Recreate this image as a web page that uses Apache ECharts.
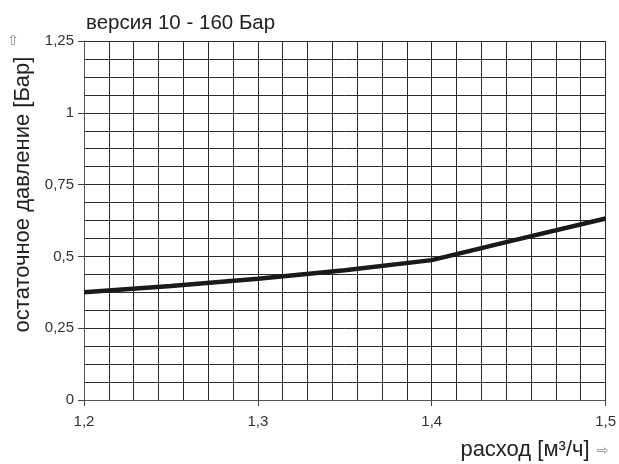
<!DOCTYPE html>
<html>
<head>
<meta charset="utf-8">
<script src="https://cdn.jsdelivr.net/npm/echarts@6/dist/echarts.min.js"></script>
<style>
html,body{margin:0;padding:0;background:#fff;}
#chart{width:619px;height:464px;}
</style>
</head>
<body>
<div id="chart"></div>
<script>
var titleText = 'версия 10 - 160 Бар';
var xName = 'расход [м³/ч]';
var yName = 'остаточное давление [Бар]';
var flow = [1.2, 1.25, 1.3, 1.35, 1.4, 1.45, 1.5];
var pressure = [0.375, 0.397, 0.422, 0.452, 0.487, 0.560, 0.632];

var FONT = '"Liberation Sans", Arial, "DejaVu Sans", sans-serif';
function fmt(v){ return String(Math.round(v*1000)/1000).replace('.', ','); }

var chart = echarts.init(document.getElementById('chart'));
chart.setOption({
  animation: false,
  backgroundColor: '#fff',
  title: {
    text: titleText,
    left: 81, top: 8,
    textStyle: {fontFamily: FONT, fontSize: 20.5, fontWeight: 'normal', color: '#222'}
  },
  grid: {left: 84, right: 12, top: 41, bottom: 64, containLabel: false},
  xAxis: {
    type: 'value', min: 1.2, max: 1.5, interval: 0.1,
    name: xName, nameLocation: 'end', nameGap: -16,
    nameTextStyle: {fontFamily: FONT, fontSize: 22, color: '#222', align: 'right', verticalAlign: 'top', padding: [39, 0, 0, 0]},
    axisLine: {show: true, lineStyle: {color: '#555', width: 1}},
    axisTick: {show: true, length: 6, lineStyle: {color: '#444'}},
    axisLabel: {formatter: fmt, fontFamily: FONT, fontSize: 15, color: '#333', margin: 14},
    splitLine: {show: true, lineStyle: {color: '#2a2a2a', width: 1}},
    minorTick: {show: false, splitNumber: 7},
    minorSplitLine: {show: true, lineStyle: {color: '#2a2a2a', width: 1}}
  },
  yAxis: {
    type: 'value', min: 0, max: 1.25, interval: 0.25,
    name: yName, nameLocation: 'middle', nameGap: 50,
    nameTextStyle: {fontFamily: FONT, fontSize: 22, color: '#222', padding: [0, 0, 0, 52]},
    axisLine: {show: true, lineStyle: {color: '#555', width: 1}},
    axisTick: {show: true, length: 6, lineStyle: {color: '#444'}},
    axisLabel: {formatter: fmt, fontFamily: FONT, fontSize: 15, color: '#333', margin: 10},
    splitLine: {show: true, lineStyle: {color: '#2a2a2a', width: 1}},
    minorTick: {show: false, splitNumber: 4},
    minorSplitLine: {show: true, lineStyle: {color: '#2a2a2a', width: 1}}
  },
  graphic: [
    {type: 'text', left: 7, top: 34, style: {text: '⇧', fontFamily: '"DejaVu Sans", sans-serif', fontSize: 14, fill: '#888'}},
    {type: 'text', left: 597, top: 444, style: {text: '⇨', fontFamily: '"DejaVu Sans", sans-serif', fontSize: 14, fill: '#888'}}
  ],
  series: [{
    type: 'line',
    data: flow.map(function(x, i){ return [x, pressure[i]]; }),
    symbol: 'none',
    smooth: false,
    lineStyle: {color: '#1a1a1a', width: 4.5}
  }]
});
</script>
</body>
</html>
